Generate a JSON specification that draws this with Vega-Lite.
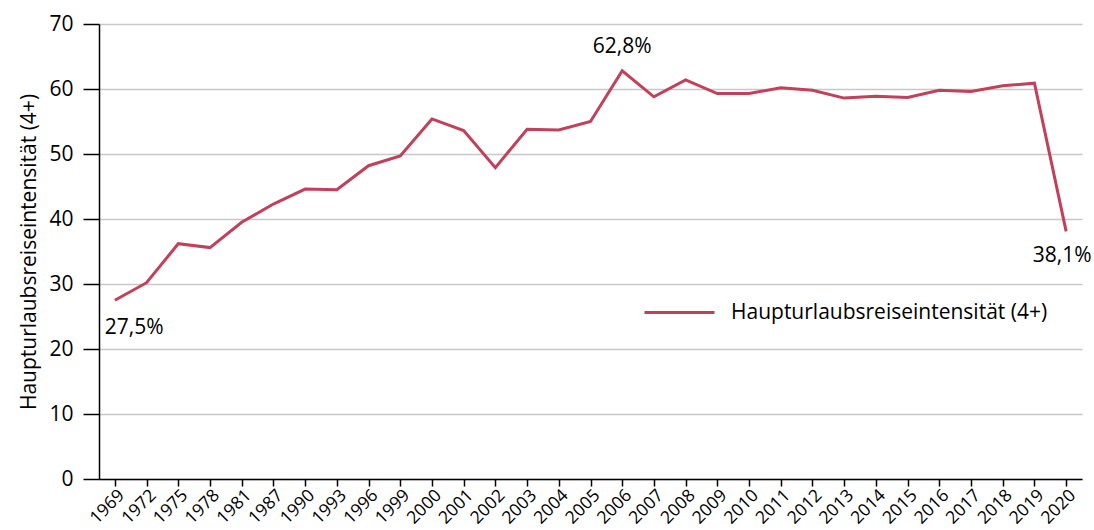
{
  "$schema": "https://vega.github.io/schema/vega-lite/v6.json",
  "autosize": "none",
  "width": 983,
  "height": 455,
  "padding": {"left": 99, "top": 24, "right": 12, "bottom": 51},
  "background": "white",
  "config": {
    "font": "Open Sans",
    "view": {"stroke": null}
  },
  "data": {
    "values": [
      {"year": "1969", "value": 27.5, "series": "Haupturlaubsreiseintensität (4+)", "label": "27,5%"},
      {"year": "1972", "value": 30.2, "series": "Haupturlaubsreiseintensität (4+)"},
      {"year": "1975", "value": 36.2, "series": "Haupturlaubsreiseintensität (4+)"},
      {"year": "1978", "value": 35.6, "series": "Haupturlaubsreiseintensität (4+)"},
      {"year": "1981", "value": 39.5, "series": "Haupturlaubsreiseintensität (4+)"},
      {"year": "1987", "value": 42.3, "series": "Haupturlaubsreiseintensität (4+)"},
      {"year": "1990", "value": 44.6, "series": "Haupturlaubsreiseintensität (4+)"},
      {"year": "1993", "value": 44.5, "series": "Haupturlaubsreiseintensität (4+)"},
      {"year": "1996", "value": 48.2, "series": "Haupturlaubsreiseintensität (4+)"},
      {"year": "1999", "value": 49.7, "series": "Haupturlaubsreiseintensität (4+)"},
      {"year": "2000", "value": 55.4, "series": "Haupturlaubsreiseintensität (4+)"},
      {"year": "2001", "value": 53.6, "series": "Haupturlaubsreiseintensität (4+)"},
      {"year": "2002", "value": 47.9, "series": "Haupturlaubsreiseintensität (4+)"},
      {"year": "2003", "value": 53.8, "series": "Haupturlaubsreiseintensität (4+)"},
      {"year": "2004", "value": 53.7, "series": "Haupturlaubsreiseintensität (4+)"},
      {"year": "2005", "value": 55.0, "series": "Haupturlaubsreiseintensität (4+)"},
      {"year": "2006", "value": 62.8, "series": "Haupturlaubsreiseintensität (4+)", "label": "62,8%"},
      {"year": "2007", "value": 58.8, "series": "Haupturlaubsreiseintensität (4+)"},
      {"year": "2008", "value": 61.4, "series": "Haupturlaubsreiseintensität (4+)"},
      {"year": "2009", "value": 59.3, "series": "Haupturlaubsreiseintensität (4+)"},
      {"year": "2010", "value": 59.3, "series": "Haupturlaubsreiseintensität (4+)"},
      {"year": "2011", "value": 60.2, "series": "Haupturlaubsreiseintensität (4+)"},
      {"year": "2012", "value": 59.8, "series": "Haupturlaubsreiseintensität (4+)"},
      {"year": "2013", "value": 58.6, "series": "Haupturlaubsreiseintensität (4+)"},
      {"year": "2014", "value": 58.9, "series": "Haupturlaubsreiseintensität (4+)"},
      {"year": "2015", "value": 58.7, "series": "Haupturlaubsreiseintensität (4+)"},
      {"year": "2016", "value": 59.8, "series": "Haupturlaubsreiseintensität (4+)"},
      {"year": "2017", "value": 59.6, "series": "Haupturlaubsreiseintensität (4+)"},
      {"year": "2018", "value": 60.5, "series": "Haupturlaubsreiseintensität (4+)"},
      {"year": "2019", "value": 60.9, "series": "Haupturlaubsreiseintensität (4+)"},
      {"year": "2020", "value": 38.1, "series": "Haupturlaubsreiseintensität (4+)", "label": "38,1%"}
    ]
  },
  "encoding": {
    "x": {
      "field": "year",
      "type": "ordinal",
      "scale": {"type": "point", "padding": 0.5},
      "axis": {
        "title": null,
        "labelAngle": -45,
        "labelFontSize": 17.5,
        "labelColor": "#000000",
        "domainColor": "#000000",
        "domainWidth": 1.5,
        "tickColor": "#000000",
        "tickWidth": 1.5,
        "tickSize": 7,
        "labelPadding": 0,
        "grid": false
      }
    },
    "y": {
      "field": "value",
      "type": "quantitative",
      "scale": {"domain": [0, 70], "nice": false},
      "axis": {
        "title": "Haupturlaubsreiseintensität (4+)",
        "titleFontSize": 21,
        "titleFontWeight": "normal",
        "titleColor": "#000000",
        "titlePadding": 9,
        "values": [0, 10, 20, 30, 40, 50, 60, 70],
        "labelFontSize": 21,
        "labelColor": "#000000",
        "labelPadding": 10,
        "domainColor": "#000000",
        "domainWidth": 1.5,
        "tickColor": "#000000",
        "tickWidth": 1.5,
        "tickSize": 16,
        "grid": true,
        "gridColor": "#c8c8c8",
        "gridWidth": 1.5
      }
    }
  },
  "layer": [
    {
      "mark": {"type": "line", "strokeWidth": 3, "strokeJoin": "miter"},
      "encoding": {
        "color": {
          "field": "series",
          "type": "nominal",
          "scale": {"range": ["#c1405b"]},
          "legend": {
            "title": null,
            "orient": "none",
            "legendX": 544,
            "legendY": 252,
            "symbolType": "stroke",
            "symbolSize": 4900,
            "symbolStrokeWidth": 3,
            "labelFontSize": 21,
            "labelColor": "#000000",
            "labelOffset": 15,
            "labelLimit": 0
          }
        }
      }
    },
    {
      "transform": [{"filter": "datum.year == '1969'"}],
      "mark": {"type": "text", "fontSize": 21, "align": "left", "dx": -10, "dy": 28, "color": "#000000"},
      "encoding": {"text": {"field": "label"}}
    },
    {
      "transform": [{"filter": "datum.year == '2006'"}],
      "mark": {"type": "text", "fontSize": 21, "align": "center", "dy": -24, "color": "#000000"},
      "encoding": {"text": {"field": "label"}}
    },
    {
      "transform": [{"filter": "datum.year == '2020'"}],
      "mark": {"type": "text", "fontSize": 21, "align": "center", "dx": -4, "dy": 25, "color": "#000000"},
      "encoding": {"text": {"field": "label"}}
    }
  ]
}
